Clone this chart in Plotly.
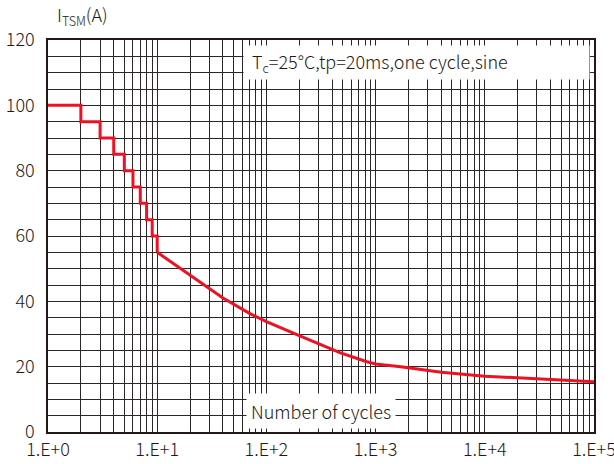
import plotly.graph_objects as go

# Step section (one cycle ... ten cycles)
step_cycles = [1, 2, 3, 4, 5, 6, 7, 8, 9, 10]
step_itsm = [100, 95, 90, 85, 80, 75, 70, 65, 60, 55]

# Curve section
curve_cycles = [10, 20, 40, 70, 100, 200, 470, 830, 1000, 1700, 4000, 10000, 100000]
curve_itsm = [55, 48, 41, 36.3, 33.8, 29.5, 24.3, 21.5, 20.8, 20.0, 18.3, 17.1, 15.4]

x_tickvals = [1, 10, 100, 1000, 10000, 100000]
x_ticktext = ["1.E+0", "1.E+1", "1.E+2", "1.E+3", "1.E+4", "1.E+5"]
y_tickvals = [0, 20, 40, 60, 80, 100, 120]

RED = "#ee1122"
INK = "#231815"
GRID = "#2e2626"
FONT = "Noto Sans CJK SC"
W = 300

fig = go.Figure()
fig.add_trace(go.Scatter(x=step_cycles, y=step_itsm, mode="lines",
                         line=dict(color=RED, width=3, shape="hv"),
                         showlegend=False, hoverinfo="skip"))
fig.add_trace(go.Scatter(x=curve_cycles, y=curve_itsm, mode="lines",
                         line=dict(color=RED, width=3),
                         showlegend=False, hoverinfo="skip"))

tf = dict(family=FONT, size=18, color=INK, weight=W)

fig.update_layout(
    width=614, height=464,
    margin=dict(l=48, r=20, t=40, b=32, autoexpand=False),
    paper_bgcolor="white", plot_bgcolor="white",
    font=tf,
    xaxis=dict(type="log", range=[0, 5], tickvals=x_tickvals, ticktext=x_ticktext,
               automargin=False, ticklabeloverflow="allow",
               showgrid=True, gridcolor=GRID, gridwidth=1,
               minor=dict(dtick="D1", showgrid=True, gridcolor=GRID, gridwidth=1, ticks=""),
               showline=True, linecolor=INK, linewidth=1.5, mirror=True,
               ticks="", ticklabelstandoff=1, zeroline=False,
               tickfont=tf),
    yaxis=dict(range=[0, 120], tickvals=y_tickvals, automargin=False,
               ticklabeloverflow="allow",
               showgrid=True, gridcolor=GRID, gridwidth=1,
               minor=dict(dtick=5, showgrid=True, gridcolor=GRID, gridwidth=1, ticks=""),
               showline=True, linecolor=INK, linewidth=1.5, mirror=True,
               ticks="", ticklabelstandoff=8, zeroline=False,
               tickfont=tf),
    annotations=[
        dict(text="I<sub>TSM</sub>(A)", xref="paper", yref="paper",
             x=0.0128, y=1.02, xanchor="left", yanchor="bottom", showarrow=False,
             font=tf),
        dict(text="&nbsp;&nbsp;T<sub>c</sub>=25°C,tp=20ms,one cycle,sine",
             xref="paper", yref="paper", x=(243 - 48) / 546, y=0.9426,
             xanchor="left", yanchor="middle", showarrow=False,
             width=345, height=33, align="left", bgcolor="white", borderpad=0,
             font=tf),
        dict(text="Number of cycles", xref="paper", yref="paper",
             x=0.5, y=0.0536, xanchor="center", yanchor="middle", showarrow=False,
             bgcolor="white", borderpad=4,
             font=tf),
    ],
)

fig.write_html("out.html")
